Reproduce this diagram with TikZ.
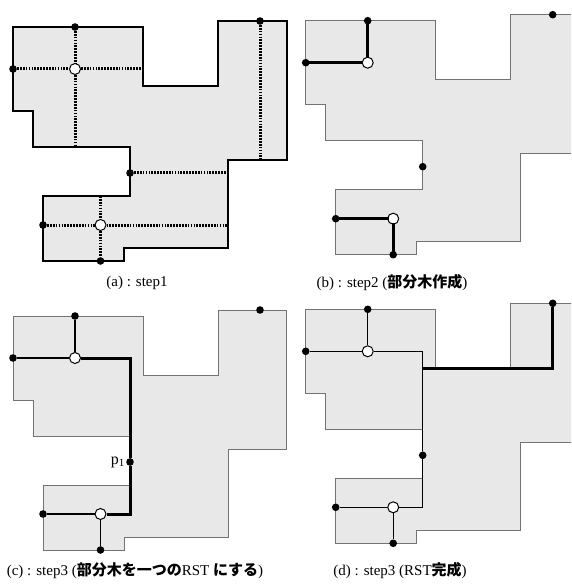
\documentclass[tikz,border=0pt]{standalone}
\usepackage{fontspec}
\setmainfont{Liberation Serif}
\newfontfamily\cjk{Noto Sans CJK JP}
\newcommand\jp[1]{{\cjk\bfseries #1}}
\tikzset{
  fdot/.style={circle,fill=black,inner sep=0pt,minimum size=7.6pt},
  odot/.style={circle,draw=black,fill=white,line width=1pt,inner sep=0pt,minimum size=11pt},
  dotline/.style={line width=3pt,dash pattern=on 1.7pt off 1.2pt},
  thickline/.style={line width=3pt,line join=miter,line cap=rect},
  thinline/.style={line width=1.3pt},
  captext/.style={font=\fontsize{15}{18}\selectfont,inner sep=0pt},
}
\newcommand\regionshape[1]{%
  \path[#1] (13,27) -- (143,27) -- (143,86) -- (218,86) -- (218,21) -- (286.7,21)
   -- (286.7,160) -- (228,160) -- (228,248) -- (124,248) -- (124,261) -- (43,261)
   -- (43,196) -- (130,196) -- (130,147) -- (33,147) -- (33,111) -- (13,111) -- cycle;}
\newcommand\pointset[1]{%
  \node[fdot] (#1T1) at (75,27) {};
  \node[fdot] (#1L1) at (13,69) {};
  \node[odot] (#1C1) at (75,69) {};
  \node[fdot] (#1R) at (260,21) {};
  \node[fdot] (#1M) at (130,173) {};
  \node[fdot] (#1L2) at (43,225) {};
  \node[odot] (#1C2) at (100.5,225) {};
  \node[fdot] (#1B2) at (100.5,261) {};
  \coordinate (#1K1) at (130,69);
  \coordinate (#1K2) at (130,225);
  \coordinate (#1K3) at (130,86);
  \coordinate (#1K4) at (260,86);}
\begin{document}
\begin{tikzpicture}[x=1pt,y=-1pt]
\clip (0,0) rectangle (571,585);
\fill[white] (0,0) rectangle (571,585);
% (a)
\begin{scope}
  \regionshape{fill=black!9,draw=black,line width=1.6pt,line join=miter}
  \pointset{a}
  \coordinate (aE1) at (75,147);
  \coordinate (aE2) at (143,69);
  \coordinate (aE3) at (260,160);
  \coordinate (aE4) at (228,173);
  \coordinate (aE5) at (228,225);
  \coordinate (aE6) at (100.5,196);
  \draw[dotline] (aT1) -- (aC1);
  \draw[dotline] (aC1) -- (aE1);
  \draw[dotline] (aL1) -- (aC1);
  \draw[dotline] (aC1) -- (aE2);
  \draw[dotline] (aR) -- (aE3);
  \draw[dotline] (aM) -- (aE4);
  \draw[dotline] (aL2) -- (aC2);
  \draw[dotline] (aC2) -- (aE5);
  \draw[dotline] (aE6) -- (aC2);
  \draw[dotline] (aC2) -- (aB2);
\end{scope}
% (b)
\begin{scope}[shift={(292.7,-6.3)}]
  \regionshape{fill=black!9,draw=black!55,line width=1pt}
  \pointset{b}
  \draw[thickline] (bL1) -- (bC1);
  \draw[thickline] (bT1) -- (bC1);
  \draw[thickline] (bL2) -- (bC2);
  \draw[thickline] (bC2) -- (bB2);
\end{scope}
% (c)
\begin{scope}[shift={(0,289)}]
  \regionshape{fill=black!9,draw=black!55,line width=1pt}
  \pointset{c}
  \draw[thinline] (cL1) -- (cC1);
  \draw[thinline] (cT1) -- (cC1);
  \draw[thinline] (cL2) -- (cC2);
  \draw[thinline] (cC2) -- (cB2);
  \draw[thickline,line cap=butt] (cC1) -- (cK1) -- (cM);
  \draw[thickline,line cap=butt] (cM) -- (cK2) -- (cC2);
  \node[anchor=east,inner sep=1.5pt,font=\fontsize{16}{18}\selectfont] (cPlab) at (cM.west) {p\raisebox{-0.3ex}{\fontsize{11}{12}\selectfont 1}};
\end{scope}
% (d)
\begin{scope}[shift={(292.7,282.3)}]
  \regionshape{fill=black!9,draw=black!55,line width=1pt}
  \pointset{d}
  \draw[thinline] (dL1) -- (dC1);
  \draw[thinline] (dT1) -- (dC1);
  \draw[thinline] (dC1) -- (dK1) -- (dM);
  \draw[thinline] (dM) -- (dK2) -- (dC2);
  \draw[thinline] (dL2) -- (dC2);
  \draw[thinline] (dC2) -- (dB2);
  \draw[thickline,line cap=butt] (dK3) -- (dK4) -- (dR);
\end{scope}
% captions
\node[captext] (capa) at (137,283) {(a) : step1};
\node[captext] (capb) at (392,283) {(b) : step2 (\jp{部分木作成})};
\node[captext] (capc) at (135,571) {(c) : step3 (\jp{部分木を一つの}RST \jp{にする})};
\node[captext] (capd) at (400,571) {(d) : step3 (RST\jp{完成})};
\end{tikzpicture}
\end{document}
